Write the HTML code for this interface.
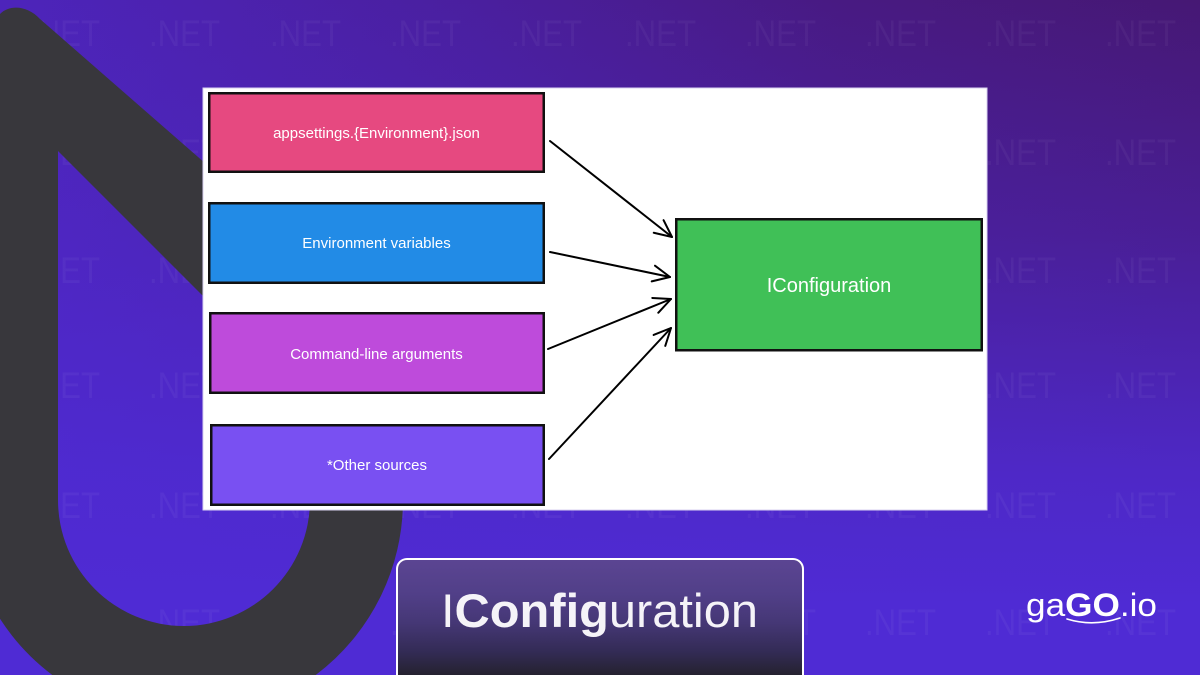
<!DOCTYPE html>
<html>
<head>
<meta charset="utf-8">
<style>
  html, body { margin: 0; padding: 0; width: 1200px; height: 675px; overflow: hidden; }
  body { position: relative; font-family: "Liberation Sans", sans-serif; }
  .bg { position: absolute; left: 0; top: 0; width: 1200px; height: 675px;
    background:
      linear-gradient(180deg, rgba(79,43,212,0) 0%, rgba(79,43,212,0.35) 35%, rgba(79,43,212,0.85) 70%, #4f2bd4 90%),
      linear-gradient(90deg, #4d24bb 0%, #4a1f9e 40%, #481a82 70%, #461874 100%);
  }
  svg { position: absolute; left: 0; top: 0; overflow: hidden; }
  .title { position: absolute; left: 396px; top: 558px; width: 408px; height: 117px;
    border: 2px solid #ffffff; border-bottom: none; border-radius: 11px 11px 0 0; box-sizing: border-box;
    background: linear-gradient(180deg, #5b4592 0%, #513f88 30%, #453775 55%, #332b55 80%, #25222f 100%);
  }
</style>
</head>
<body>
<div class="bg"></div>
<svg width="1200" height="675" viewBox="0 0 1200 675" xmlns="http://www.w3.org/2000/svg">
  <defs>
    <marker id="ah" markerWidth="20" markerHeight="18" refX="18" refY="9" orient="auto" markerUnits="userSpaceOnUse" viewBox="0 0 20 18">
      <path d="M1,1 L18,9 L1,17" fill="none" stroke="#000" stroke-width="2" stroke-linecap="round" stroke-linejoin="round"/>
    </marker>
  </defs>
  <!-- watermark -->
  <g font-family="Liberation Sans, sans-serif" font-size="37" fill="rgba(255,255,255,0.045)">
    <g id="row">
      <text x="29" y="46" textLength="71" lengthAdjust="spacingAndGlyphs">.NET</text>
      <text x="149" y="46" textLength="71" lengthAdjust="spacingAndGlyphs">.NET</text>
      <text x="270" y="46" textLength="71" lengthAdjust="spacingAndGlyphs">.NET</text>
      <text x="390" y="46" textLength="71" lengthAdjust="spacingAndGlyphs">.NET</text>
      <text x="511" y="46" textLength="71" lengthAdjust="spacingAndGlyphs">.NET</text>
      <text x="625" y="46" textLength="71" lengthAdjust="spacingAndGlyphs">.NET</text>
      <text x="745" y="46" textLength="71" lengthAdjust="spacingAndGlyphs">.NET</text>
      <text x="865" y="46" textLength="71" lengthAdjust="spacingAndGlyphs">.NET</text>
      <text x="985" y="46" textLength="71" lengthAdjust="spacingAndGlyphs">.NET</text>
      <text x="1105" y="46" textLength="71" lengthAdjust="spacingAndGlyphs">.NET</text>
    </g>
    <use href="#row" y="119"/>
    <use href="#row" y="237"/>
    <use href="#row" y="352"/>
    <use href="#row" y="472"/>
    <use href="#row" y="589"/>
  </g>
  <!-- dark logo shape -->
  <path fill="#38373c" fill-rule="evenodd"
    d="M 0,618.8 L 0,14 C 10,4 28,6 40,19 L 403,336 L 403,500 A 219 219 0 0 1 315.7,675 L 52.3,675 A 219 219 0 0 1 0,618.8 Z
       M 58,151 L 310,403 L 310,500 A 126 126 0 0 1 58,500 Z"/>
  <!-- white panel -->
  <rect x="203" y="88" width="784" height="422" fill="#ffffff" stroke="#d9d2f0" stroke-width="1"/>
  <!-- source boxes -->
  <rect x="209.25" y="93.25" width="334.5" height="78.5" fill="#e64980" stroke="#111" stroke-width="2.5"/>
  <rect x="209.25" y="203.25" width="334.5" height="79.5" fill="#228be6" stroke="#111" stroke-width="2.5"/>
  <rect x="210.25" y="313.25" width="333.5" height="79.5" fill="#be4bdb" stroke="#111" stroke-width="2.5"/>
  <rect x="211.25" y="425.25" width="332.5" height="79.5" fill="#7950f2" stroke="#111" stroke-width="2.5"/>
  <g font-family="Liberation Sans, sans-serif" font-size="15" fill="#ffffff" text-anchor="middle">
    <text x="376.5" y="138">appsettings.{Environment}.json</text>
    <text x="376.5" y="248">Environment variables</text>
    <text x="376.5" y="359">Command-line arguments</text>
    <text x="377" y="470">*Other sources</text>
  </g>
  <!-- target box -->
  <rect x="676.25" y="219.25" width="305.5" height="131" fill="#40c057" stroke="#111" stroke-width="2.5"/>
  <text x="829" y="292" font-family="Liberation Sans, sans-serif" font-size="20" fill="#ffffff" text-anchor="middle">IConfiguration</text>
  <!-- arrows -->
  <g stroke="#000" stroke-width="2" fill="none" stroke-linecap="round">
    <line x1="550" y1="141" x2="672" y2="237" marker-end="url(#ah)"/>
    <line x1="550" y1="252" x2="670" y2="277" marker-end="url(#ah)"/>
    <line x1="548" y1="349" x2="671" y2="299" marker-end="url(#ah)"/>
    <line x1="549" y1="459" x2="671" y2="328" marker-end="url(#ah)"/>
  </g>
</svg>
<div class="title"></div>
<svg width="1200" height="675" viewBox="0 0 1200 675" xmlns="http://www.w3.org/2000/svg">
  <text x="441" y="627" font-family="Liberation Sans, sans-serif" font-size="47" fill="#f5f3f8" textLength="317" lengthAdjust="spacingAndGlyphs">I<tspan font-weight="bold">Config</tspan>uration</text>
  <text x="1026" y="616" font-family="Liberation Sans, sans-serif" font-size="32" fill="#ffffff" textLength="131" lengthAdjust="spacingAndGlyphs">ga<tspan font-weight="bold">GO</tspan>.io</text>
  <path d="M1067 619 Q1093 627 1120 618" fill="none" stroke="#ffffff" stroke-width="1.6" stroke-linecap="round"/>
</svg>
</body>
</html>
